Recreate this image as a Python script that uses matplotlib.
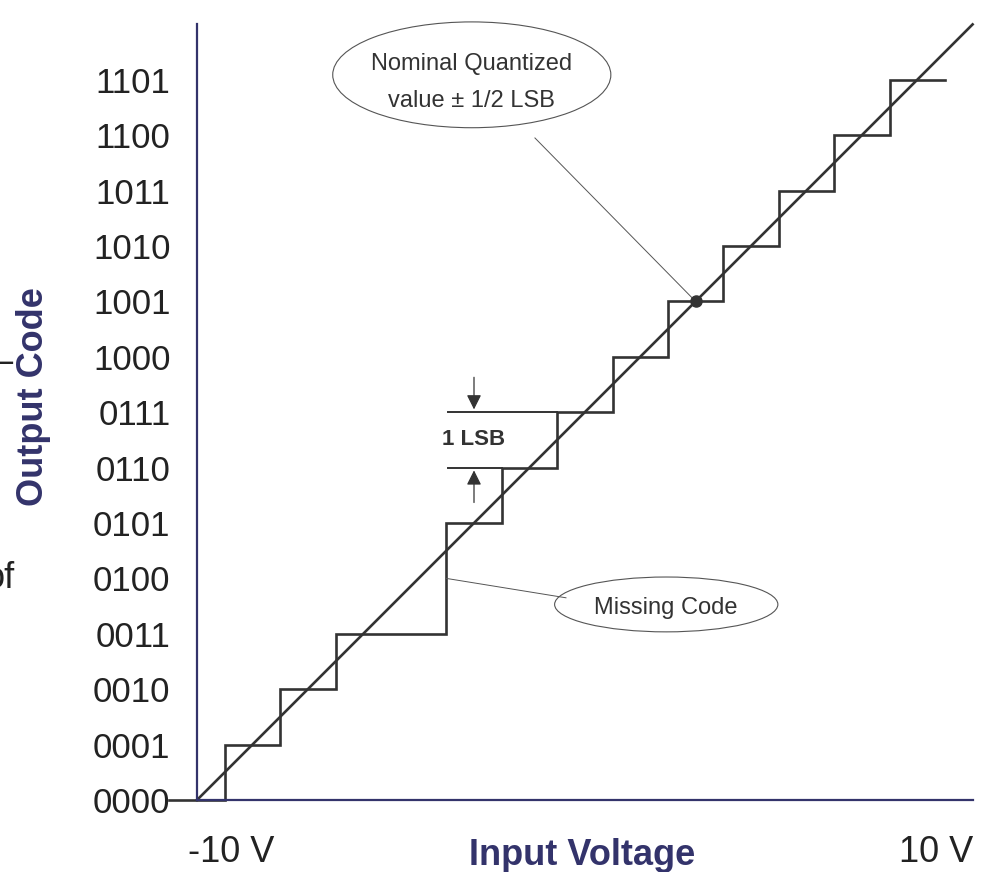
import matplotlib.pyplot as plt
from matplotlib.patches import Ellipse

plt.rcParams['font.family'] = ['Liberation Sans', 'DejaVu Sans']

# ADC transfer curve, x in LSB units from -10 V
codes = ['0000', '0001', '0010', '0011', '0100', '0101', '0110',
         '0111', '1000', '1001', '1010', '1011', '1100', '1101']
# transition points of the staircase (code 0100 is missing)
step_x = [-0.5, 0.5, 1.5, 2.5, 4.5, 5.5, 6.5, 7.5, 8.5, 9.5, 10.5, 11.5, 12.5, 13.5]
step_y = [0, 1, 2, 3, 5, 6, 7, 8, 9, 10, 11, 12, 13]
ideal_x = [0, 14]
ideal_y = [0, 14]

dark = '#333333'
navy = '#33336b'

fig = plt.figure(figsize=(9.86, 8.72), dpi=100)
ax = fig.add_axes([197 / 986, 72 / 872, 775.6 / 986, 775.6 / 872])
ax.set_xlim(0, 14)
ax.set_ylim(0, 14)

# staircase
sx, sy = [], []
for i, y in enumerate(step_y):
    sx += [step_x[i], step_x[i + 1]]
    sy += [y, y]
ax.plot(sx, sy, color=dark, lw=1.9, clip_on=False, solid_joinstyle='miter')
ax.plot(ideal_x, ideal_y, color=dark, lw=1.9, clip_on=False)
ax.plot(9, 9, 'o', color=dark, ms=8, zorder=5)

for s in ['top', 'right']:
    ax.spines[s].set_visible(False)
for s in ['left', 'bottom']:
    ax.spines[s].set_color(navy)
    ax.spines[s].set_linewidth(1.6)

ax.set_xticks([])
ax.set_yticks(range(len(codes)), codes)
ax.tick_params(axis='y', length=0, pad=19, labelsize=25, labelcolor='#222222')

ax.set_ylabel('Output Code', fontsize=26, fontweight='bold', color=navy)
ax.yaxis.set_label_coords(-0.188, 0.52)
fig.text(231 / 986, 1 - 852 / 872, '-10 V', fontsize=26, color='#222222', ha='center', va='center')
fig.text(936 / 986, 1 - 852 / 872, '10 V', fontsize=26, color='#222222', ha='center', va='center')
fig.text(582 / 986, 1 - 855 / 872, 'Input Voltage', fontsize=26, fontweight='bold',
         color=navy, ha='center', va='center')

# stray text cut at the left edge
fig.text(13 / 986, 1 - 362 / 872, '–', fontsize=26, color='#222222', ha='right', va='center')
fig.text(15 / 986, 1 - 578 / 872, 'of', fontsize=26, color='#222222', ha='right', va='center')

# 1 LSB marker
ax.plot([4.53, 6.5], [7, 7], color=dark, lw=1.4)
ax.plot([4.53, 5.5], [6, 6], color=dark, lw=1.4)
ax.annotate('', xy=(5.0, 7), xytext=(5.0, 7.68),
            arrowprops=dict(arrowstyle='-|>', color=dark, lw=0.9, mutation_scale=22))
ax.annotate('', xy=(5.0, 6), xytext=(5.0, 5.32),
            arrowprops=dict(arrowstyle='-|>', color=dark, lw=0.9, mutation_scale=22))
ax.text(5.0, 6.5, '1 LSB', fontsize=16, fontweight='bold', color=dark, ha='center', va='center')

# callouts
ax.add_patch(Ellipse((4.96, 13.09), 5.02, 1.91, fill=False, ec='#555555', lw=0.8, clip_on=False))
ax.text(4.96, 13.28, 'Nominal Quantized', fontsize=17, color=dark, ha='center', va='center')
ax.text(4.96, 12.62, 'value ± 1/2 LSB', fontsize=17, color=dark, ha='center', va='center')
ax.plot([6.1, 9.0], [11.95, 9.0], color='#555555', lw=0.7, clip_on=False)

ax.add_patch(Ellipse((8.47, 3.53), 4.03, 0.99, fill=False, ec='#555555', lw=0.8, clip_on=False))
ax.text(8.47, 3.47, 'Missing Code', fontsize=17, color=dark, ha='center', va='center')
ax.plot([4.5, 6.66], [4.0, 3.65], color='#555555', lw=0.7)

fig.savefig('out.png', dpi=100)
